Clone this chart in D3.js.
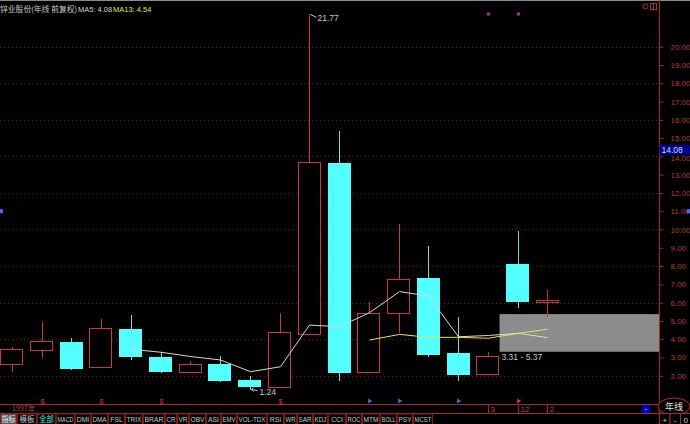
<!DOCTYPE html>
<html>
<head>
<meta charset="utf-8">
<script src="https://cdn.jsdelivr.net/npm/d3@7/dist/d3.min.js"></script>
<style>
body { margin: 0; background: #000; overflow: hidden; }
text { font-family: "Liberation Sans", "DejaVu Sans", sans-serif; }
.cjk { font-family: "Noto Sans CJK SC", sans-serif; }
</style>
</head>
<body>
<script>
// yearly candles, 锌业股份 前复权
let years = [1997, 1998, 1999, 2000, 2001, 2002, 2003, 2004, 2005, 2006, 2007, 2008, 2009, 2010, 2011, 2012, 2013, 2014, 2015];
let opens = [2.64, 3.39, 3.86, 2.44, 4.55, 3.04, 2.22, 2.64, 1.76, 1.40, 4.32, 13.62, 2.22, 5.41, 7.36, 3.23, 2.13, 8.09, 6.02];
let closes = [3.44, 3.90, 2.46, 4.59, 3.08, 2.26, 2.64, 1.76, 1.44, 4.41, 13.71, 2.19, 5.45, 7.27, 3.19, 2.09, 3.09, 6.05, 6.12];
let highs = [3.55, 4.92, 4.05, 5.10, 5.32, 3.31, 2.82, 3.08, 1.98, 5.41, 21.77, 15.39, 6.05, 10.30, 9.10, 5.19, 3.28, 9.93, 6.69];
let lows = [2.22, 2.95, 2.31, 2.44, 2.86, 2.16, 2.13, 1.64, 1.24, 1.38, 4.32, 1.73, 2.22, 4.32, 3.04, 1.73, 2.09, 5.69, 5.23];
let ma5 = [null, null, null, null, 3.44, 3.28, 3.05, 2.86, 2.22, 2.49, 4.77, 4.68, 5.45, 6.60, 6.36, 4.13, 4.20, 4.32, 4.08];
let ma13 = [null, null, null, null, null, null, null, null, null, null, null, null, 3.95, 4.26, 4.10, 4.10, 4.05, 4.32, 4.54];
let priceTicks = [2, 3, 4, 5, 6, 7, 8, 9, 10, 11, 12, 13, 14, 15, 16, 17, 18, 19, 20];
let gridTicks = [2, 4, 6, 8, 10, 12, 14, 16, 18, 20];
let rangeLow = 3.31, rangeHigh = 5.37;
let lastPrice = 14.08;
let redMarks = [1998, 2000, 2002, 2006];
let blueMarks = [2009, 2010, 2012, 2014];
let topMarks = [2013, 2014];
let stripLabels = [{year: 2013, text: "3"}, {year: 2014, text: "12"}, {year: 2015, text: "2"}];
let buttons = ["指标", "模板", "全部", "MACD", "DMI", "DMA", "FSL", "TRIX", "BRAR", "CR", "VR", "OBV", "ASI", "EMV", "VOL-TDX", "RSI", "WR", "SAR", "KDJ", "CCI", "ROC", "MTM", "BOLL", "PSY", "MCST"];

let svg = d3.select("body").append("svg")
	.attr("width", 690)
	.attr("height", 424);

let width = +svg.attr("width");
let height = +svg.attr("height");

let axisX = 659.5; // right price axis
let stripTop = 404.5, barTop = 413.5;
// right edges of the toolbar buttons
let buttonEdges = [17, 37, 56, 75, 91, 108, 125, 143, 165, 177, 189, 206, 221, 237, 267, 284, 297, 313, 328, 346, 362, 380, 397, 413, 433];

let up = "#cc3838", down = "#54ffff", grid = "#7a1818", axisRed = "#a82828";

svg.append("rect").attr("width", width).attr("height", height).attr("fill", "#000");

let step = 29.76;
let x = d3.scaleBand()
	.domain(years)
	.range([-3.1, -3.1 + years.length * step])
	.paddingInner(0.22)
	.paddingOuter(0.11);

let y = d3.scaleLinear()
	.domain([2, 20])
	.range([375.7, 46.7]);

let cx = d => Math.round(x(d) + x.bandwidth() / 2) + 0.5;

// top border
svg.append("line").attr("x1", 0).attr("x2", width).attr("y1", 0.5).attr("y2", 0.5)
	.attr("stroke", "#8a8a8a");

// dotted grid
svg.append("g").selectAll("line")
	.data(gridTicks)
	.enter().append("line")
	.attr("x1", 0).attr("x2", axisX)
	.attr("y1", d => Math.round(y(d)) + 0.5)
	.attr("y2", d => Math.round(y(d)) + 0.5)
	.attr("stroke", grid)
	.attr("stroke-dasharray", "1,3");

// price range box
let boxLeft = x(years[16]) + x.bandwidth();
svg.append("rect")
	.attr("x", boxLeft)
	.attr("y", y(rangeHigh))
	.attr("width", axisX - boxLeft)
	.attr("height", y(rangeLow) - y(rangeHigh))
	.attr("fill", "#8c8c8c");

svg.append("text")
	.attr("x", boxLeft + 2)
	.attr("y", y(rangeLow) + 8)
	.attr("font-size", 8.5)
	.attr("fill", "#c8c8c8")
	.text(rangeLow.toFixed(2) + " - " + rangeHigh.toFixed(2));

// candles
let candles = years.map((yr, i) => ({year: yr, o: opens[i], c: closes[i], h: highs[i], l: lows[i]}));

let cg = svg.append("g").attr("shape-rendering", "crispEdges");

let cs = cg.selectAll("g")
	.data(candles)
	.enter().append("g");

cs.append("line")
	.attr("x1", d => cx(d.year)).attr("x2", d => cx(d.year))
	.attr("y1", d => y(d.h)).attr("y2", d => y(d.l))
	.attr("stroke", d => d.c >= d.o ? up : "#7fd8d8");

cs.append("rect")
	.attr("x", d => Math.round(x(d.year)) + 0.5)
	.attr("width", Math.round(x.bandwidth()) - 1)
	.attr("y", d => Math.round(y(Math.max(d.o, d.c))) + 0.5)
	.attr("height", d => Math.max(1, Math.round(Math.abs(y(d.o) - y(d.c)))))
	.attr("fill", d => d.c >= d.o ? "#000" : down)
	.attr("stroke", d => d.c >= d.o ? up : down);

// moving averages
let maLine = d3.line()
	.defined(d => d.v != null)
	.x(d => cx(d.year))
	.y(d => y(d.v));

svg.append("path")
	.datum(years.map((yr, i) => ({year: yr, v: ma5[i]})))
	.attr("d", maLine)
	.attr("fill", "none")
	.attr("stroke", "#d8d8d8");

svg.append("path")
	.datum(years.map((yr, i) => ({year: yr, v: ma13[i]})))
	.attr("d", maLine)
	.attr("fill", "none")
	.attr("stroke", "#e6e650");

// high / low notes
let hiIdx = highs.indexOf(d3.max(highs));
let loIdx = lows.indexOf(d3.min(lows));
svg.append("path")
	.attr("d", `M${cx(years[hiIdx]) + 1},${y(highs[hiIdx])} l6,3`)
	.attr("stroke", "#c8c8c8").attr("fill", "none");
svg.append("text")
	.attr("x", cx(years[hiIdx]) + 8)
	.attr("y", y(highs[hiIdx]) + 7)
	.attr("font-size", 8.5).attr("fill", "#c8c8c8")
	.text(highs[hiIdx].toFixed(2));
svg.append("path")
	.attr("d", `M${cx(years[loIdx]) + 1},${y(lows[loIdx])} l6,1 M${cx(years[loIdx]) + 1},${y(lows[loIdx])} l2,-2 M${cx(years[loIdx]) + 1},${y(lows[loIdx])} l2,2`)
	.attr("stroke", "#c8c8c8").attr("fill", "none");
svg.append("text")
	.attr("x", cx(years[loIdx]) + 9)
	.attr("y", y(lows[loIdx]) + 5)
	.attr("font-size", 8.5).attr("fill", "#c8c8c8")
	.text(lows[loIdx].toFixed(2));

// right price axis
let yAxis = d3.axisRight(y)
	.tickValues(priceTicks)
	.tickFormat(d3.format(".2f"))
	.tickSize(4)
	.tickPadding(7)
	.tickSizeOuter(0);

let ag = svg.append("g")
	.attr("transform", `translate(${axisX},0)`)
	.call(yAxis);
ag.select(".domain").remove();
ag.selectAll(".tick line").attr("stroke", axisRed);
ag.selectAll(".tick text")
	.attr("fill", "#b83c3c")
	.attr("font-size", 8)
	.attr("font-family", "Liberation Sans, sans-serif");

svg.append("line")
	.attr("x1", axisX).attr("x2", axisX).attr("y1", 0).attr("y2", height)
	.attr("stroke", axisRed);

// last price tag (sits over the 14.00 label as in the terminal)
ag.selectAll(".tick").filter(d => d === 14).select("text").attr("dy", "0.55em");
svg.append("rect")
	.attr("x", axisX).attr("y", y(lastPrice) - 10)
	.attr("width", width - axisX).attr("height", 10)
	.attr("fill", "#00008c");
svg.append("text")
	.attr("x", axisX + 2).attr("y", y(lastPrice) - 2)
	.attr("font-size", 8.5).attr("fill", "#d0d8ff")
	.text(lastPrice.toFixed(2));

// small blue markers at the edges
svg.append("rect").attr("x", 0).attr("y", y(11) - 2).attr("width", 3).attr("height", 4).attr("fill", "#3a6cff");
svg.append("rect").attr("x", width - 3).attr("y", y(11) - 2).attr("width", 3).attr("height", 4).attr("fill", "#3a6cff");

// top marks
svg.append("g").selectAll("rect")
	.data(topMarks)
	.enter().append("rect")
	.attr("x", d => cx(d) - 1.5).attr("y", 12.5)
	.attr("width", 3).attr("height", 3)
	.attr("fill", "#b028b0");

// top right icons
svg.append("circle").attr("cx", 645.5).attr("cy", 6.5).attr("r", 2.5)
	.attr("fill", "none").attr("stroke", "#b03030");
svg.append("rect").attr("x", 650.5).attr("y", 3.5).attr("width", 6).attr("height", 6)
	.attr("fill", "none").attr("stroke", "#b03030");
svg.append("line").attr("x1", 653.5).attr("x2", 653.5).attr("y1", 3.5).attr("y2", 9.5)
	.attr("stroke", "#b03030");

// header
svg.append("text").attr("class", "cjk")
	.attr("x", 0).attr("y", 11.5)
	.attr("font-size", 7.8).attr("fill", "#c8c8c8")
	.text("锌业股份(年线 前复权)");
svg.append("text")
	.attr("x", 78).attr("y", 11.5)
	.attr("font-size", 7.5).attr("fill", "#d8d8d8")
	.text("MA5: " + ma5[ma5.length - 1].toFixed(2));
svg.append("text")
	.attr("x", 113).attr("y", 11.5)
	.attr("font-size", 7.5).attr("fill", "#e6e650")
	.text("MA13: " + ma13[ma13.length - 1].toFixed(2));

// time strip
svg.append("line").attr("x1", 0).attr("x2", axisX).attr("y1", stripTop).attr("y2", stripTop).attr("stroke", axisRed);
svg.append("line").attr("x1", 0).attr("x2", width).attr("y1", barTop).attr("y2", barTop).attr("stroke", axisRed);

svg.append("text").attr("class", "cjk")
	.attr("x", 12).attr("y", 411)
	.attr("font-size", 7.2).attr("fill", "#b04848")
	.text(years[0] + "年");

svg.append("g").selectAll("text")
	.data(redMarks)
	.enter().append("text")
	.attr("x", d => cx(d)).attr("y", 403.5)
	.attr("text-anchor", "middle")
	.attr("font-size", 7).attr("fill", "#e03030")
	.text("$");

svg.append("g").selectAll("path")
	.data(blueMarks)
	.enter().append("path")
	.attr("d", d3.symbol(d3.symbolTriangle, 10))
	.attr("transform", d => `translate(${cx(d)},401) rotate(90)`)
	.attr("fill", d => d === 2014 ? "#e03030" : "#4a6ae0");

let sl = svg.append("g").selectAll("g")
	.data(stripLabels)
	.enter().append("g");
sl.append("line")
	.attr("x1", d => cx(d.year)).attr("x2", d => cx(d.year))
	.attr("y1", stripTop).attr("y2", barTop)
	.attr("stroke", axisRed);
sl.append("text")
	.attr("x", d => cx(d.year) + 2).attr("y", 411.5)
	.attr("font-size", 8).attr("fill", "#c04040")
	.text(d => d.text);

// blue scroll button
svg.append("rect").attr("x", 642).attr("y", 405).attr("width", 8).attr("height", 8).attr("fill", "#0000c8");
svg.append("text").attr("x", 646).attr("y", 411).attr("text-anchor", "middle")
	.attr("font-size", 7).attr("fill", "#fff").text("-");

// 年线 ellipse
svg.append("ellipse").attr("cx", 674).attr("cy", 406.5).attr("rx", 16).attr("ry", 8.5)
	.attr("fill", "#000").attr("stroke", "#c02828");
svg.append("text").attr("class", "cjk")
	.attr("x", 674).attr("y", 410).attr("text-anchor", "middle")
	.attr("font-size", 9).attr("fill", "#e0e0e0").text("年线");

// + - 0
let zoomBtns = ["+", "-", "0"];
let zb = svg.append("g").selectAll("g")
	.data(zoomBtns)
	.enter().append("g")
	.attr("transform", (d, i) => `translate(${axisX + i * 10.5},${barTop})`);
zb.append("rect").attr("width", 10.5).attr("height", 11)
	.attr("fill", "#000").attr("stroke", axisRed);
zb.append("text").attr("x", 5.25).attr("y", 9).attr("text-anchor", "middle")
	.attr("font-size", 8).attr("fill", "#d0d0d0").text(d => d);

// indicator toolbar
let tb = svg.append("g").attr("transform", `translate(0,${barTop})`);
buttons.forEach((b, i) => {
	let x0 = i === 0 ? 0 : buttonEdges[i - 1];
	let w = buttonEdges[i] - x0;
	let latin = /[A-Z]/.test(b);
	tb.append("rect")
		.attr("x", x0 + 0.5).attr("y", 0.5)
		.attr("width", w - 1).attr("height", 10.5)
		.attr("fill", i === 0 ? "#5a5a5a" : "#000")
		.attr("stroke", "#801818");
	let t = tb.append("text")
		.attr("class", latin ? null : "cjk")
		.attr("x", x0 + w / 2).attr("y", latin ? 8.3 : 8.8)
		.attr("text-anchor", "middle")
		.attr("font-size", latin ? 6.8 : 7.5)
		.attr("font-family", latin ? "Liberation Mono, monospace" : null)
		.attr("fill", i === 2 ? "#40e8e8" : (i === 0 ? "#f0f0f0" : "#c8c8c8"))
		.text(b);
	let tl = t.node().getComputedTextLength();
	if (tl > w - 3) {
		t.attr("textLength", w - 3).attr("lengthAdjust", "spacingAndGlyphs");
	}
});
</script>
</body>
</html>
